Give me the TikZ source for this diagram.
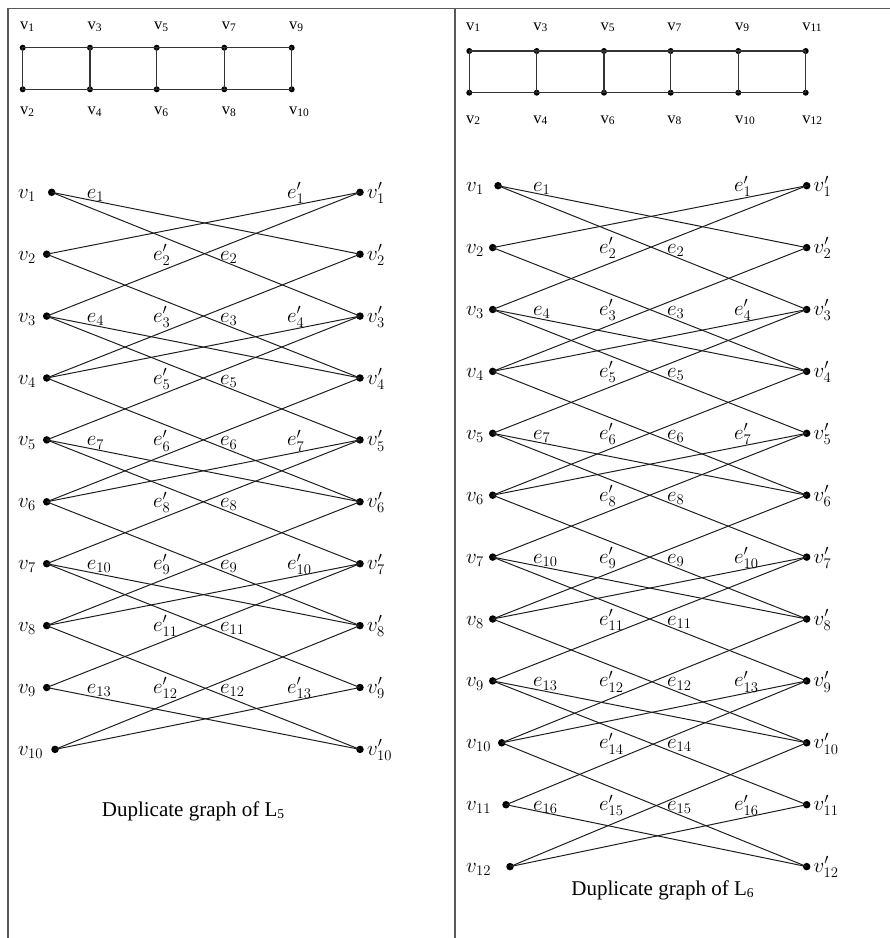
\RequirePackage{fix-cm}
\documentclass[tikz,border=0pt]{standalone}
\usepackage[no-math]{fontspec}
\newfontfamily\tnr{Liberation Serif}
\newcommand\lsub[1]{\raisebox{-1.8pt}{\fontsize{11.5}{12}\selectfont #1}}
\newcommand\csub[1]{\raisebox{-2pt}{\fontsize{13.5}{14}\selectfont #1}}
\begin{document}
\begin{tikzpicture}[x=1pt,y=-1pt,
  dot/.style={circle,fill=black,inner sep=0pt,minimum size=7.5pt},
  sdot/.style={circle,fill=black,inner sep=0pt,minimum size=6pt},
  edge/.style={line width=1pt,draw=black!88},
  lab/.style={inner sep=0pt,anchor=base west,font=\fontsize{21}{25}\selectfont},
  lad/.style={line width=1.1pt,draw=black!80},
  tlab/.style={inner sep=0pt,anchor=base west,font=\tnr\fontsize{16.5}{18}\selectfont},
  captext/.style={inner sep=0pt,anchor=base,font=\tnr\fontsize{21}{25}\selectfont},
  frame/.style={line width=1.6pt,draw=black!65}]
\useasboundingbox (0,0) rectangle (890,938);
% frame lines
\draw[frame] (8,938) -- (8,8.5) -- (890,8.5);
\draw[frame,line width=1.2pt] (455,8.5) -- (455,938);

% ---------- top ladder L5 ----------
\foreach \k/\x in {1/22.7,2/90,3/156.7,4/224.3,5/291.7} {
  \pgfmathtruncatemacro\t{2*\k-1}
  \pgfmathtruncatemacro\b{2*\k}
  \node[sdot] (p\t) at (\x,47.7) {};
  \node[sdot] (p\b) at (\x,89.3) {};
  \node[tlab] (pl\t) at (\x-2.7,29.5) {v\lsub{\t}};
  \node[tlab] (pl\b) at (\x-2.7,114.5) {v\lsub{\b}};
}
\draw[lad] (p1.center) -- (p9.center) -- (p10.center) -- (p2.center) -- cycle;
\foreach \k in {3,5,7} {
  \pgfmathtruncatemacro\m{\k+1}
  \draw[lad] (p\k.center) -- (p\m.center);
}

% ---------- top ladder L6 ----------
\foreach \k/\x in {1/469.3,2/536.7,3/604,4/670.7,5/738.3,6/805.7} {
  \pgfmathtruncatemacro\t{2*\k-1}
  \pgfmathtruncatemacro\b{2*\k}
  \node[sdot] (q\t) at (\x,51) {};
  \node[sdot] (q\b) at (\x,92.7) {};
  \node[tlab] (ql\t) at (\x-3.5,30) {v\lsub{\t}};
  \node[tlab] (ql\b) at (\x-3.5,123) {v\lsub{\b}};
}
\draw[lad] (q1.center) -- (q11.center) -- (q12.center) -- (q2.center) -- cycle;
\foreach \k in {3,5,7,9} {
  \pgfmathtruncatemacro\m{\k+1}
  \draw[lad] (q\k.center) -- (q\m.center);
}

% ---------- duplicate graph of L5 ----------
\foreach \i/\x in {1/51.7,2/46.7,3/46.7,4/46.7,5/46.7,6/46.7,7/46.7,8/46.7,9/46.7,10/55} {
  \pgfmathsetmacro\y{192.3+(\i-1)*61.9}
  \node[dot] (L\i) at (\x,\y) {};
  \node[dot] (R\i) at (360,\y) {};
  \node[lab] (Ll\i) at (18,\y+6) {$v_{\i}$};
  \node[lab] (Rl\i) at (367,\y+6) {$v'_{\i}$};
}
\foreach \a/\b in {1/2,1/3,2/4,3/4,3/5,4/6,5/6,5/7,6/8,7/8,7/9,8/10,9/10} {
  \draw[edge] (L\a.center) -- (R\b.center);
  \draw[edge] (L\b.center) -- (R\a.center);
}
\foreach \r/\x/\t [count=\n] in {1/86.7/e_1, 1/287/e'_1,
  2/153/e'_2, 2/220/e_2,
  3/86.7/e_4, 3/153/e'_3, 3/220/e_3, 3/287/e'_4,
  4/153/e'_5, 4/220/e_5,
  5/86.7/e_7, 5/153/e'_6, 5/220/e_6, 5/287/e'_7,
  6/153/e'_8, 6/220/e_8,
  7/86.7/e_{10}, 7/153/e'_9, 7/220/e_9, 7/287/e'_{10},
  8/153/e'_{11}, 8/220/e_{11},
  9/86.7/e_{13}, 9/153/e'_{12}, 9/220/e_{12}, 9/287/e'_{13}} {
  \pgfmathsetmacro\y{192.3+(\r-1)*61.9+6}
  \node[lab] (Le\n) at (\x,\y) {$\t$};
}
\node[captext] (cap5) at (193,816.7) {Duplicate graph of L\csub{5}};

% ---------- duplicate graph of L6 ----------
\foreach \i/\x in {1/498,2/492.7,3/492.7,4/492.7,5/492.7,6/492.7,7/492.7,8/492.7,9/492.7,10/501.7,11/506,12/510} {
  \pgfmathsetmacro\y{185.7+(\i-1)*61.9}
  \node[dot] (A\i) at (\x,\y) {};
  \node[dot] (B\i) at (806.7,\y) {};
  \node[lab] (Al\i) at (466,\y+6) {$v_{\i}$};
  \node[lab] (Bl\i) at (813.5,\y+6) {$v'_{\i}$};
}
\foreach \a/\b in {1/2,1/3,2/4,3/4,3/5,4/6,5/6,5/7,6/8,7/8,7/9,8/10,9/10,9/11,10/12,11/12} {
  \draw[edge] (A\a.center) -- (B\b.center);
  \draw[edge] (A\b.center) -- (B\a.center);
}
\foreach \r/\x/\t [count=\n] in {1/533/e_1, 1/734/e'_1,
  2/599/e'_2, 2/667/e_2,
  3/533/e_4, 3/599/e'_3, 3/667/e_3, 3/734/e'_4,
  4/599/e'_5, 4/667/e_5,
  5/533/e_7, 5/599/e'_6, 5/667/e_6, 5/734/e'_7,
  6/599/e'_8, 6/667/e_8,
  7/533/e_{10}, 7/599/e'_9, 7/667/e_9, 7/734/e'_{10},
  8/599/e'_{11}, 8/667/e_{11},
  9/533/e_{13}, 9/599/e'_{12}, 9/667/e_{12}, 9/734/e'_{13},
  10/599/e'_{14}, 10/667/e_{14},
  11/533/e_{16}, 11/599/e'_{15}, 11/667/e_{15}, 11/734/e'_{16}} {
  \pgfmathsetmacro\y{185.7+(\r-1)*61.9+6}
  \node[lab] (Ae\n) at (\x,\y) {$\t$};
}
\node[captext] (cap6) at (662.5,895) {Duplicate graph of L\csub{6}};
\end{tikzpicture}
\end{document}
